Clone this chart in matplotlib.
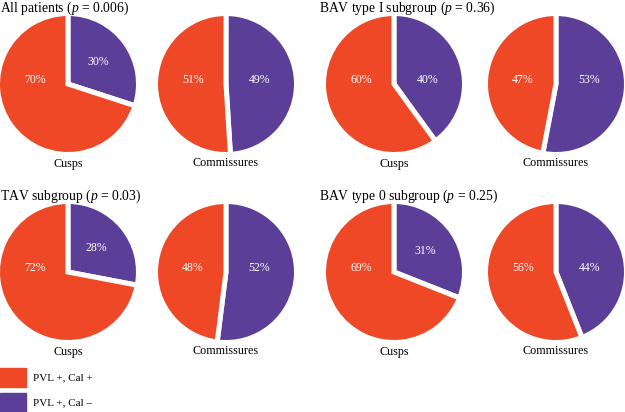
import matplotlib.pyplot as plt
import numpy as np

plt.rcParams['font.family'] = ['Liberation Serif', 'DejaVu Serif']
plt.rcParams['mathtext.fontset'] = 'custom'
plt.rcParams['mathtext.rm'] = 'Liberation Serif'
plt.rcParams['mathtext.it'] = 'Liberation Serif:italic'

groups = ['All patients', 'BAV type I subgroup', 'TAV subgroup', 'BAV type 0 subgroup']
p_values = ['0.006', '0.36', '0.03', '0.25']
cusps_cal_pos = [70, 60, 72, 69]
cusps_cal_neg = [30, 40, 28, 31]
comm_cal_pos = [51, 47, 48, 56]
comm_cal_neg = [49, 53, 52, 44]
legend_labels = ['PVL +, Cal +', 'PVL +, Cal \u2013']

orange = '#EE4826'
purple = '#5B3E97'

W, H = 625, 412
fig = plt.figure(figsize=(W / 100, H / 100), dpi=100)

R = 70.5  # pie radius in px (incl. white edge)
col_x = [68, 226, 394, 556]
row_y = [84, 272]


def draw_pie(cx, cy, neg, pos, name):
    ax = fig.add_axes([(cx - R) / W, 1 - (cy + R) / H, 2 * R / W, 2 * R / H])
    wedges, _ = ax.pie([neg, pos], colors=[purple, orange], startangle=90,
                       counterclock=False, radius=1,
                       wedgeprops=dict(edgecolor='white', linewidth=3.6))
    ax.set_xlim(-1, 1)
    ax.set_ylim(-1, 1)
    ax.set_aspect('equal')
    ax.axis('off')
    total = neg + pos
    for w, v in zip(wedges, [neg, pos]):
        mid = np.deg2rad((w.theta1 + w.theta2) / 2)
        if v / total < 0.35:
            x, y = 0.53 * np.cos(mid), 0.53 * np.sin(mid)
        else:
            x, y = 0.47 * np.sign(np.cos(mid)), 0.06
        ax.text(x, y, f'{v}%', color='white', fontsize=8.5,
                ha='center', va='center')
    fig.text(cx / W, 1 - (cy + R + 9) / H, name, fontsize=8.7,
             ha='center', va='center')


for i in range(4):
    r, c = divmod(i, 2)
    cy = row_y[r]
    draw_pie(col_x[2 * c], cy, cusps_cal_neg[i], cusps_cal_pos[i], 'Cusps')
    draw_pie(col_x[2 * c + 1], cy, comm_cal_neg[i], comm_cal_pos[i], 'Commissures')
    tx = 0 if c == 0 else 319
    fig.text(tx / W, 1 - (cy - R - 13.5) / H,
             f'{groups[i]} ($p$ = {p_values[i]})', fontsize=9.8,
             ha='left', va='top')

# legend boxes
for k, (lab, col) in enumerate(zip(legend_labels, [orange, purple])):
    y0 = 368 + 25 * k
    fig.patches.append(plt.Rectangle((0, 1 - (y0 + 19) / H), 26 / W, 19 / H,
                                     transform=fig.transFigure, color=col))
    fig.text(33 / W, 1 - (y0 + 9.5) / H, lab, fontsize=8,
             ha='left', va='center')

fig.savefig('out.png', dpi=100)
